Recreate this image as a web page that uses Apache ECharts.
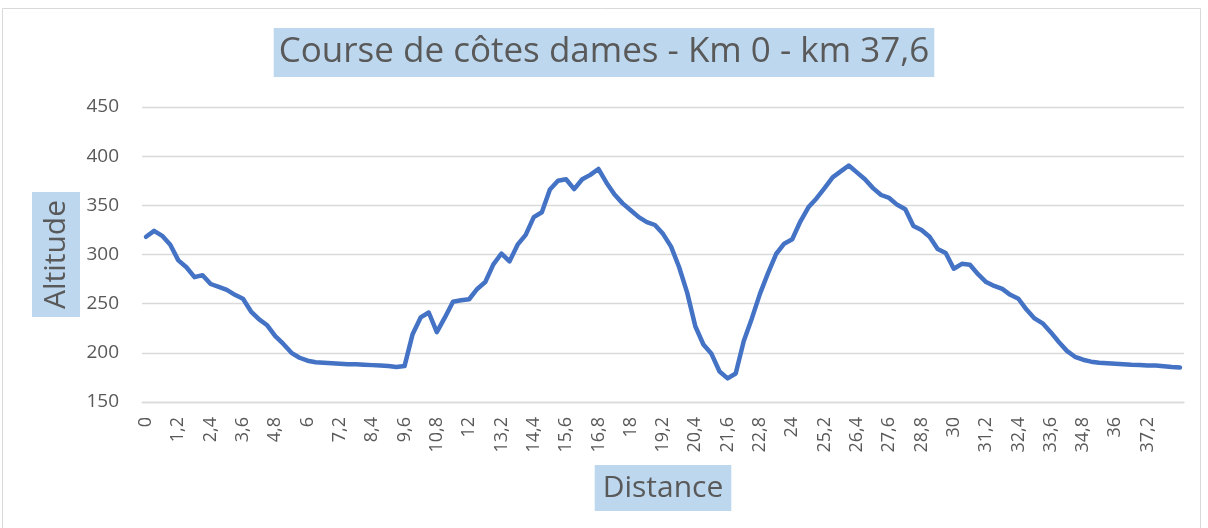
<!DOCTYPE html>
<html>
<head>
<meta charset="utf-8">
<script src="https://cdn.jsdelivr.net/npm/echarts@6/dist/echarts.min.js"></script>
<style>
  html, body { margin: 0; padding: 0; background: #fff; }
  #main { width: 1208px; height: 528px; }
</style>
</head>
<body>
<div id="main"></div>
<script>
// distance (km) par point, pas de 0,3
var distances = ['0','0,3','0,6','0,9','1,2','1,5','1,8','2,1','2,4','2,7','3','3,3','3,6','3,9','4,2','4,5','4,8','5,1','5,4','5,7',
  '6','6,3','6,6','6,9','7,2','7,5','7,8','8,1','8,4','8,7','9','9,3','9,6','9,9','10,2','10,5','10,8','11,1','11,4','11,7',
  '12','12,3','12,6','12,9','13,2','13,5','13,8','14,1','14,4','14,7','15','15,3','15,6','15,9','16,2','16,5','16,8','17,1','17,4','17,7',
  '18','18,3','18,6','18,9','19,2','19,5','19,8','20,1','20,4','20,7','21','21,3','21,6','21,9','22,2','22,5','22,8','23,1','23,4','23,7',
  '24','24,3','24,6','24,9','25,2','25,5','25,8','26,1','26,4','26,7','27','27,3','27,6','27,9','28,2','28,5','28,8','29,1','29,4','29,7',
  '30','30,3','30,6','30,9','31,2','31,5','31,8','32,1','32,4','32,7','33','33,3','33,6','33,9','34,2','34,5','34,8','35,1','35,4','35,7',
  '36','36,3','36,6','36,9','37,2','37,5','37,8','38,1','38,4'];

// altitude (m)
var altitudes = [318,324,319,310,294,287,277,279,270,267,264,259,255,242,234,228,217,209,200,195,
  192,190.5,190,189.5,189,188.5,188.5,188,187.5,187,186.5,185.5,186.5,219,236,241,221,236,252,253.5,
  254.5,265,272,290,301,293,310,320,338,343,366,375,376.5,366.5,376.5,381,387,373,361,352,
  345,338,333,330,321,308,287,261,227,208.5,199,181,174,179,212,235,260,281,300.5,311,
  315.5,333.5,348,357,367.5,378.5,384.5,390.5,383.5,376.5,367.5,360.5,357.5,350.5,346,329,325,318,305.5,301.5,
  285.5,290.5,289.5,280,272,268,265,259,255,244,235,230,221,211,202,196,193,191,190,189.5,
  189,188.5,188,187.7,187.2,187,186.3,185.5,185];

var yTicks = { min: 150, max: 450, step: 50 };

var txtColor = '#595959';
var boxColor = '#BDD7EE';
var font = 'Open Sans';

var myChart = echarts.init(document.getElementById('main'));

var option = {
    backgroundColor: '#fff',
    animation: false,
    title: {
        text: 'Course de côtes dames - Km 0 - km 37,6',
        left: 'center',
        top: 28,
        padding: [7, 5],
        backgroundColor: boxColor,
        textStyle: { color: txtColor, fontFamily: font, fontSize: 35, fontWeight: 'normal' }
    },
    graphic: [{
        type: 'rect',
        silent: true,
        shape: { x: 2.5, y: 8.5, width: 1198, height: 540 },
        style: { fill: 'none', stroke: '#d9d9d9', lineWidth: 1 }
    }],
    grid: { left: 142, right: 24, top: 107, bottom: 126 },
    xAxis: {
        type: 'category',
        boundaryGap: true,
        data: distances,
        name: 'Distance',
        nameLocation: 'middle',
        nameGap: 63,
        nameMoveOverlap: false,
        nameTextStyle: {
            color: txtColor, fontFamily: font, fontSize: 30,
            backgroundColor: boxColor, padding: [8, 8]
        },
        axisLine: { show: true, lineStyle: { color: '#d9d9d9', width: 1.3 } },
        axisTick: { show: false },
        axisLabel: {
            // un libellé tous les 1,2 km, pas le dernier point
            interval: function (index) { return index % 4 === 0 && index < distances.length - 1; },
            rotate: 90,
            margin: 15,
            color: txtColor,
            fontFamily: font,
            fontSize: 18
        },
        splitLine: { show: false }
    },
    yAxis: {
        type: 'value',
        min: yTicks.min,
        max: yTicks.max,
        interval: yTicks.step,
        name: 'Altitude',
        nameLocation: 'middle',
        nameRotate: 90,
        nameGap: 62,
        nameMoveOverlap: false,
        nameTextStyle: {
            color: txtColor, fontFamily: font, fontSize: 30,
            backgroundColor: boxColor, padding: [9, 8]
        },
        axisLine: { show: false },
        axisTick: { show: false },
        axisLabel: { color: txtColor, fontFamily: font, fontSize: 19, margin: 23 },
        splitLine: { lineStyle: { color: '#d9d9d9', width: 1.3 } }
    },
    series: [{
        name: 'Altitude',
        type: 'line',
        data: altitudes,
        showSymbol: false,
        smooth: false,
        lineStyle: { color: '#4472C4', width: 4.5, cap: 'round', join: 'round' }
    }]
};

myChart.setOption(option);
</script>
</body>
</html>
